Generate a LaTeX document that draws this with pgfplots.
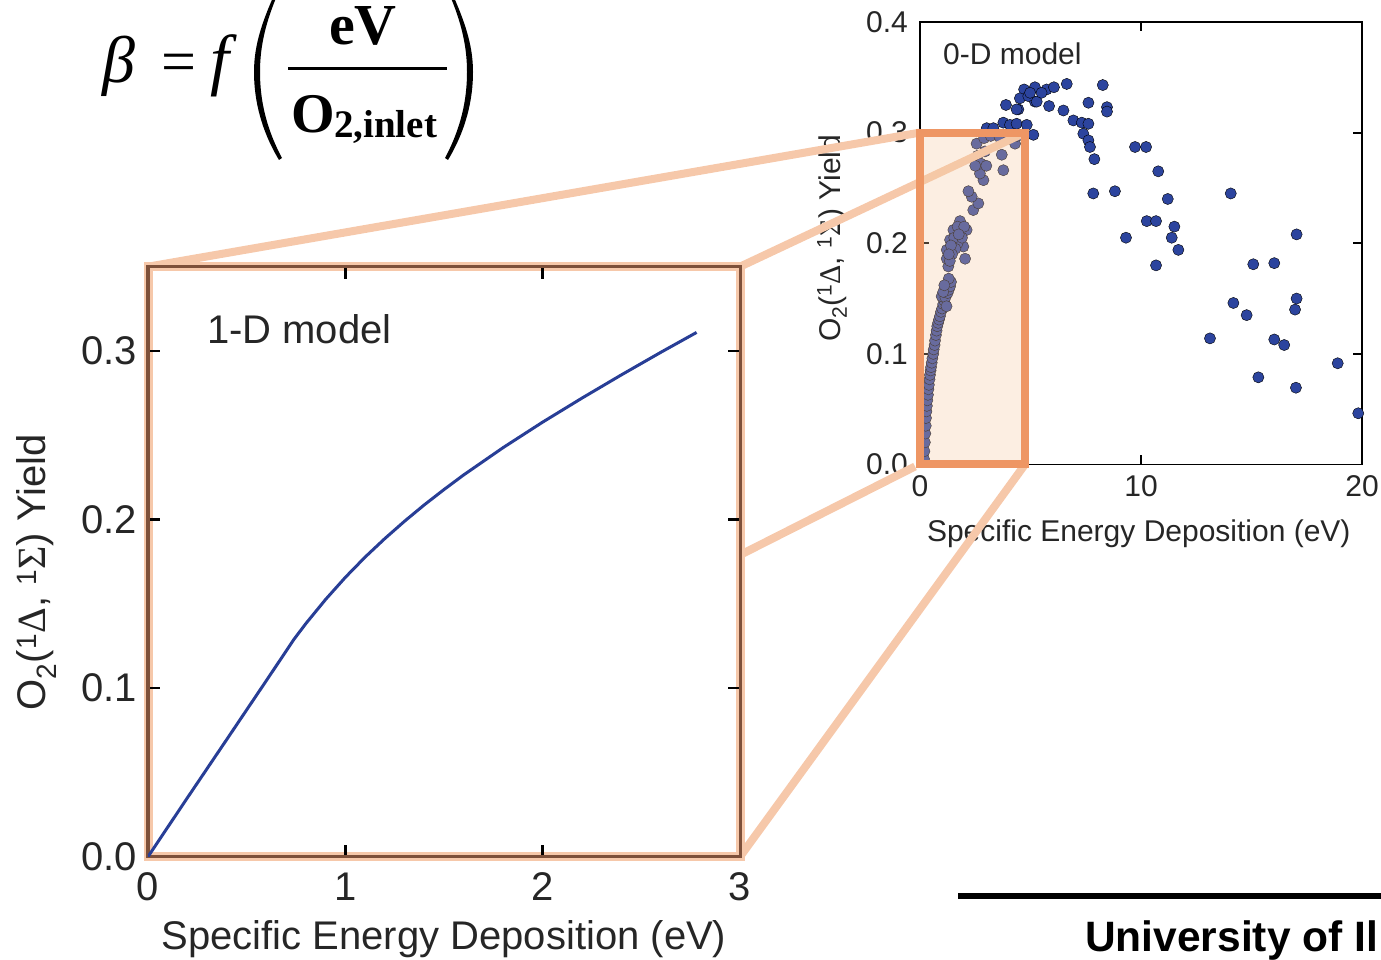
\documentclass[border=0pt]{standalone}
\usepackage{fontspec}
\setmainfont{Liberation Sans}
\newfontfamily\timesfont{Liberation Serif}
\usepackage{pgfplots}
\pgfplotsset{compat=1.18}
\usetikzlibrary{calc}
\definecolor{ptblue}{RGB}{44,68,158}
\definecolor{curveblue}{RGB}{40,62,150}
\definecolor{lorange}{RGB}{246,200,170}
\definecolor{borange}{RGB}{238,150,100}
\definecolor{peach}{RGB}{245,200,160}
\definecolor{brownax}{RGB}{125,80,58}
\newcommand{\ylab}{O\textsubscript{2}(\textsuperscript{1}{\timesfont Δ}, \textsuperscript{1}{\timesfont Σ}) Yield}
\begin{document}
\begin{tikzpicture}[x=1pt,y=1pt]
\useasboundingbox (0,0) rectangle (1381,960);

% ---------- right axis: 0-D model ----------
\begin{axis}[
  at={(920pt,495.5pt)}, anchor=south west,
  scale only axis, width=442pt, height=442.5pt,
  xmin=0, xmax=20, ymin=0, ymax=0.4,
  xtick={0,10,20}, xticklabels={0,10,20},
  ytick={0,0.1,0.2,0.3,0.4}, yticklabels={0.0,0.1,0.2,0.3,0.4},
  tick align=inside, major tick length=9pt,
  axis line style={line width=1.8pt, black},
  every tick/.style={line width=1.8pt, black},
  every tick label/.append style={inner sep=0pt, font=\fontsize{30}{36}\selectfont, text=black!85},
  xticklabel style={anchor=north, yshift=-11pt},
  yticklabel style={anchor=east, xshift=-12pt},
  xlabel={Specific Energy Deposition (eV)},
  ylabel={\ylab},
  xlabel style={at={(axis description cs:0.495,-0.125)}, anchor=north, inner sep=0pt, font=\fontsize{30}{36}\selectfont, text=black!85},
  ylabel style={at={(axis description cs:-0.199,0.511)}, anchor=center, inner sep=0pt, font=\fontsize{30}{36}\selectfont, text=black!85},
]
\addplot[only marks, mark=*, mark size=5.6pt, mark options={draw=none, fill=ptblue}] coordinates {
(6.64,0.344)(8.27,0.343)(8.46,0.323)(8.46,0.319)(7.62,0.327)(6.49,0.320)(5.84,0.324)(5.20,0.328)
(4.71,0.339)(5.20,0.341)(5.73,0.339)(6.06,0.341)(4.52,0.331)(4.90,0.333)(4.98,0.336)(5.28,0.328)
(4.45,0.321)(3.89,0.325)(4.37,0.321)(5.50,0.336)
(3.77,0.309)(4.07,0.307)(4.37,0.308)(4.83,0.307)(3.02,0.304)(3.32,0.304)(5.13,0.298)
(6.94,0.311)(7.32,0.309)(7.62,0.308)(7.39,0.299)(7.62,0.293)(7.69,0.287)(7.89,0.276)
(9.73,0.287)(10.23,0.287)(10.78,0.265)(7.84,0.245)(8.82,0.247)(14.06,0.245)(11.21,0.240)
(10.26,0.220)(10.68,0.220)(11.51,0.215)(11.39,0.205)(9.32,0.205)(11.69,0.194)(10.68,0.180)
(17.04,0.208)(15.08,0.181)(16.03,0.182)(17.04,0.150)(16.97,0.140)(14.18,0.146)(14.78,0.135)
(13.12,0.114)(16.03,0.113)(16.48,0.108)(18.90,0.0915)(15.31,0.0788)(17.01,0.0694)(19.83,0.0463)
(0.18,0.005)(0.20,0.012)(0.22,0.020)(0.24,0.028)(0.26,0.035)(0.27,0.042)(0.29,0.048)(0.31,0.053)
(0.33,0.058)(0.36,0.063)(0.38,0.068)(0.40,0.072)(0.43,0.077)(0.45,0.081)(0.48,0.085)(0.50,0.088)
(0.53,0.092)(0.56,0.096)(0.60,0.100)(0.62,0.104)(0.66,0.108)(0.68,0.112)(0.72,0.117)(0.75,0.121)
(0.78,0.125)(0.82,0.128)(0.86,0.131)(0.90,0.134)(0.95,0.138)(1.00,0.141)(1.05,0.145)(1.10,0.148)
(0.98,0.152)(1.15,0.151)(1.20,0.143)(1.25,0.155)(1.30,0.158)(1.36,0.161)(1.40,0.165)(1.30,0.168)
(1.05,0.156)(1.10,0.162)(1.28,0.179)(1.21,0.186)(1.21,0.194)(1.36,0.203)(1.51,0.212)(1.81,0.220)
(2.11,0.212)(2.04,0.186)(1.96,0.197)(1.70,0.200)(1.60,0.195)(1.45,0.190)(1.35,0.184)(1.55,0.205)
(1.70,0.215)(1.90,0.205)(2.00,0.215)(1.40,0.198)(1.30,0.190)(1.75,0.208)(2.41,0.230)(2.64,0.236)
(2.34,0.242)(2.19,0.247)(2.87,0.257)(2.71,0.263)(3.77,0.266)(3.70,0.280)(2.94,0.283)(2.56,0.290)
(4.30,0.290)(2.60,0.279)(2.75,0.272)(2.50,0.270)(3.00,0.270)(2.90,0.295)(3.20,0.297)(3.60,0.296)
(4.00,0.298)(4.40,0.297)
};
\node[anchor=north west, inner sep=0pt, font=\fontsize{30}{36}\selectfont, text=black!85] at (axis cs:1.04,0.381) {0-D model};
\coordinate (RA) at (axis cs:0,0.3);
\coordinate (RB) at (axis cs:4.75,0.3);
\coordinate (RC) at (axis cs:0,0);
\coordinate (RD) at (axis cs:4.75,0);
\end{axis}

% ---------- zoom connectors ----------
\draw[lorange, line width=8pt] (148,693.3) -- (RA);
\draw[lorange, line width=8pt] (740,693.3) -- (RB);
\draw[lorange, line width=8pt] (740,405) -- ($(RC)+(-5,-2)$);
\draw[lorange, line width=8pt] (740,103.3) -- (RD);
\fill[peach, fill opacity=0.3] (RC) rectangle (RB);
\draw[borange, line width=8pt] (RC) rectangle (RB);
\draw[lorange, line width=9pt] (148,103.3) rectangle (740,693.3);

% ---------- left axis: 1-D model ----------
\begin{axis}[
  at={(148pt,103.3pt)}, anchor=south west,
  scale only axis, width=592pt, height=590pt,
  xmin=0, xmax=3, ymin=0, ymax=0.35,
  xtick={0,1,2,3}, xticklabels={0,1,2,3},
  ytick={0,0.1,0.2,0.3}, yticklabels={0.0,0.1,0.2,0.3},
  tick align=inside, major tick length=12pt,
  axis line style={line width=3pt, brownax},
  every tick/.style={line width=2.5pt, black},
  every tick label/.append style={inner sep=0pt, font=\fontsize{40}{48}\selectfont, text=black!85},
  xticklabel style={anchor=north, yshift=-16pt},
  yticklabel style={anchor=east, xshift=-11pt},
  xlabel={Specific Energy Deposition (eV)},
  ylabel={\ylab},
  xlabel style={at={(axis description cs:0.5,-0.107)}, anchor=north, inner sep=0pt, font=\fontsize{40}{48}\selectfont, text=black!85},
  ylabel style={at={(axis description cs:-0.189,0.482)}, anchor=center, inner sep=0pt, font=\fontsize{40}{48}\selectfont, text=black!85},
]
\addplot[curveblue, line width=3pt] coordinates {
(0,0)(0.2,0.035)(0.4,0.0697)(0.6,0.1045)(0.74,0.129)(0.8,0.1383)(0.9,0.1526)(1.0,0.1657)
(1.1,0.1777)(1.2,0.1887)(1.3,0.1990)(1.4,0.2087)(1.5,0.2178)(1.6,0.2265)(1.8,0.2427)
(2.0,0.2578)(2.2,0.2721)(2.4,0.2859)(2.6,0.2993)(2.78,0.311)
};
\node[anchor=north west, inner sep=0pt, font=\fontsize{40}{48}\selectfont, text=black!85] at (axis cs:0.298,0.322) {1-D model};
\end{axis}

% ---------- formula ----------
\node[anchor=base west, inner sep=0pt, font=\timesfont\itshape\fontsize{66}{70}\selectfont] at (102,877) {β};
\node[anchor=center, inner sep=0pt, font=\timesfont\fontsize{62}{70}\selectfont] at (179,891.5) {=};
\node[anchor=base west, inner sep=0pt, font=\timesfont\itshape\fontsize{68}{72}\selectfont] at (210,877) {f};
\fill (281,980) .. controls (262,940) and (254,915) .. (254,888) .. controls (254,860) and (261,830) .. (279,800)
  -- (282,802) .. controls (266,832) and (260,860) .. (260,888) .. controls (260,915) and (266,942) .. (284,980) -- cycle;
\fill (446,980) .. controls (465,940) and (473,915) .. (473,888) .. controls (473,860) and (466,830) .. (448,800)
  -- (445,802) .. controls (461,832) and (467,860) .. (467,888) .. controls (467,915) and (461,942) .. (443,980) -- cycle;
\node[anchor=base, inner sep=0pt, font=\timesfont\bfseries\fontsize{58}{62}\selectfont] at (363,915) {eV};
\draw[line width=3.5pt] (288,891.3) -- (447,891.3);
\node[anchor=base west, inner sep=0pt, font=\timesfont\bfseries\fontsize{56}{60}\selectfont] at (291,827) {O};
\node[anchor=base west, inner sep=0pt, font=\timesfont\bfseries\fontsize{39}{42}\selectfont] at (334,822) {2,inlet};

% ---------- footer ----------
\draw[line width=6pt] (958,64.3) -- (1381,64.3);
\node[anchor=base west, inner sep=0pt, font=\bfseries\fontsize{42.5}{48}\selectfont] at (1085,8.3) {University of Il};
\end{tikzpicture}
\end{document}
